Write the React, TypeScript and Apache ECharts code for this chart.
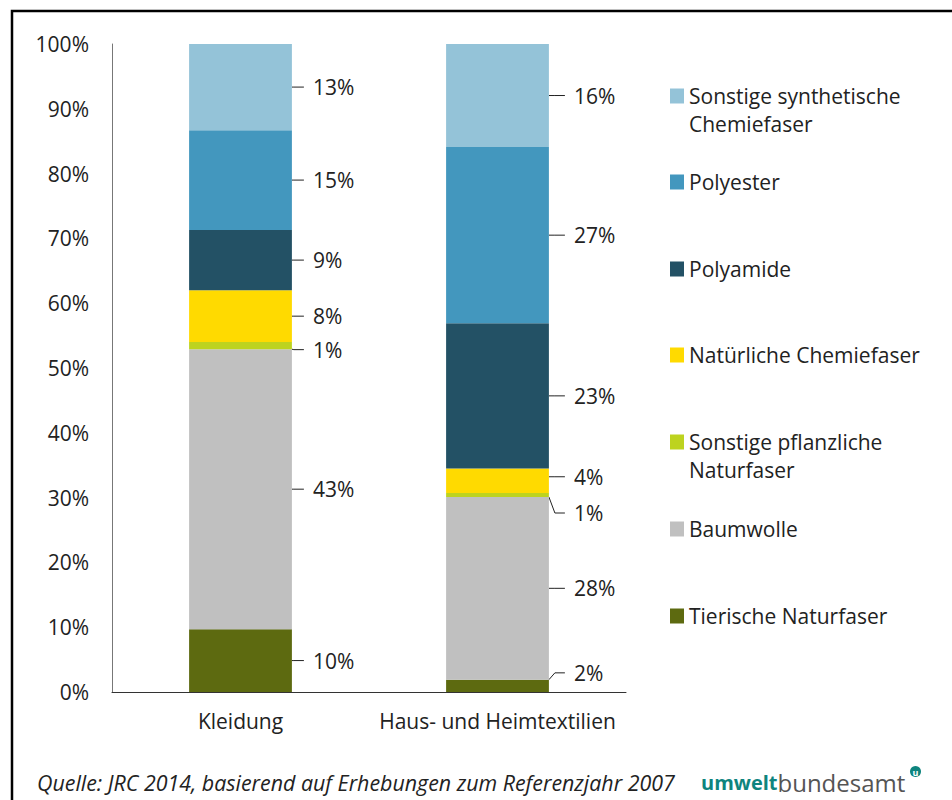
import React, { useEffect, useRef } from "react";
import * as echarts from "echarts";

const categories = ["Kleidung", "Haus- und Heimtextilien"];
const seriesNames = [
  "Tierische Naturfaser",
  "Baumwolle",
  "Sonstige pflanzliche Naturfaser",
  "Natürliche Chemiefaser",
  "Polyamide",
  "Polyester",
  "Sonstige synthetische Chemiefaser",
];
const seriesColors = ["#5d6a10", "#c0c0c0", "#bdd31f", "#ffda00", "#235165", "#4397be", "#94c3d8"];
// values per series: [Kleidung, Haus- und Heimtextilien]
const tierische = [9.7, 1.9];
const baumwolle = [43.2, 28.2];
const pflanzliche = [1.1, 0.6];
const natuerlicheChemie = [8.0, 3.8];
const polyamide = [9.3, 22.4];
const polyester = [15.4, 27.2];
const sonstigeSynth = [13.3, 15.9];
const seriesValues = [tierische, baumwolle, pflanzliche, natuerlicheChemie, polyamide, polyester, sonstigeSynth];
// printed labels
const tierischeLabel = ["10%", "2%"];
const baumwolleLabel = ["43%", "28%"];
const pflanzlicheLabel = ["1%", "1%"];
const natuerlicheLabel = ["8%", "4%"];
const polyamideLabel = ["9%", "23%"];
const polyesterLabel = ["15%", "27%"];
const sonstigeSynthLabel = ["13%", "16%"];
const seriesLabels = [tierischeLabel, baumwolleLabel, pflanzlicheLabel, natuerlicheLabel, polyamideLabel, polyesterLabel, sonstigeSynthLabel];
// vertical label offsets (label leader shifts)
const labelDy = [[0, -13], [0, 0], [4, 18], [0, -4], [0, 0], [0, 0], [0, 0]];
const labelDx = [12, 16];

const legendDisplay: Record<string, string> = {
  "Sonstige synthetische Chemiefaser": "\nSonstige synthetische\nChemiefaser",
  "Sonstige pflanzliche Naturfaser": "\nSonstige pflanzliche\nNaturfaser",
};
const legendOrder = [
  "Sonstige synthetische Chemiefaser",
  "Polyester",
  "Polyamide",
  "Natürliche Chemiefaser",
  "Sonstige pflanzliche Naturfaser",
  "Baumwolle",
  "Tierische Naturfaser",
];
const legendCenters = [96, 182, 269, 355, 442, 529, 616];

export default function App() {
  const ref = useRef<HTMLDivElement>(null);
  useEffect(() => {
    if (!ref.current) return;
    const chart = echarts.init(ref.current, null, { renderer: "svg" });
    const font = "Open Sans";
    const fs = 21;
    const series = seriesNames.map((name, si) => ({
      name,
      type: "bar",
      stack: "total",
      barWidth: "40%",
      data: seriesValues[si],
      itemStyle: { color: seriesColors[si] },
      label: {
        show: true,
        position: "right",
        distance: 0,
        fontSize: fs,
        fontFamily: font,
        color: "#222",
        formatter: (p: any) => "{g| }{v|" + seriesLabels[si][p.dataIndex] + "}",
        rich: {
          g: { width: 9, fontSize: fs },
          v: { fontSize: fs, fontFamily: font, color: "#222" },
        },
      },
      labelLine: { show: true, length2: 10, lineStyle: { color: "#222", width: 1 } },
      labelLayout: (p: any) => ({ dx: labelDx[p.dataIndex], dy: labelDy[si][p.dataIndex] }),
    }));
    const legends = legendOrder.map((name, i) => {
      const multi = !!legendDisplay[name];
      return {
        data: [name],
        left: 670,
        top: legendCenters[i] - (multi ? 42 : 14),
        orient: "vertical",
        padding: 0,
        icon: "rect",
        itemWidth: 14,
        itemHeight: 15,
        itemGap: 0,
        selectedMode: false,
        formatter: (n: string) => legendDisplay[n] || n,
        textStyle: { fontSize: fs, fontFamily: font, color: "#222", lineHeight: 28 },
      };
    });
    chart.setOption({
      animation: false,
      textStyle: { fontFamily: font },
      grid: { left: 112, top: 44, width: 514, height: 648, containLabel: false },
      xAxis: {
        type: "category",
        data: categories,
        axisLine: { lineStyle: { color: "#333", width: 1 } },
        axisTick: { show: false },
        axisLabel: { fontSize: fs, color: "#222", margin: 18, interval: 0, fontFamily: font },
      },
      yAxis: {
        type: "value",
        min: 0,
        max: 100,
        interval: 10,
        axisLine: { show: true, lineStyle: { color: "#777", width: 1 } },
        axisTick: { show: false },
        splitLine: { show: false },
        axisLabel: { fontSize: fs, color: "#222", margin: 23, formatter: "{value}%", fontFamily: font },
      },
      legend: legends,
      series,
      graphic: [
        {
          type: "rect",
          shape: { x: 12, y: 11, width: 1200, height: 1200 },
          style: { fill: "none", stroke: "#000", lineWidth: 2.5 },
          silent: true,
        },
        {
          type: "text",
          x: 37,
          y: 782,
          style: {
            text: "Quelle: JRC 2014, basierend auf Erhebungen zum Referenzjahr 2007",
            fontSize: 21.4,
            fontStyle: "italic",
            fontFamily: font,
            fill: "#222",
            verticalAlign: "middle",
          },
        },
        {
          type: "text",
          x: 701,
          y: 782,
          style: {
            text: "{a|umwelt}{b|bundesamt}",
            verticalAlign: "middle",
            rich: {
              a: { fontSize: 20, fontWeight: "bold", fill: "#0e847e", fontFamily: font },
              b: { fontSize: 24, fill: "#555", fontFamily: font },
            },
          },
        },
        {
          type: "circle",
          shape: { cx: 915.5, cy: 771.5, r: 5.5 },
          style: { fill: "#0e847e" },
        },
        {
          type: "text",
          x: 915.5,
          y: 772,
          style: { text: "u", fontSize: 9, fontWeight: "bold", fill: "#fff", align: "center", verticalAlign: "middle", fontFamily: font },
        },
      ],
    });
    return () => chart.dispose();
  }, []);
  return <div ref={ref} style={{ position: "absolute", left: 0, top: 0, width: 952, height: 800 }} />;
}
